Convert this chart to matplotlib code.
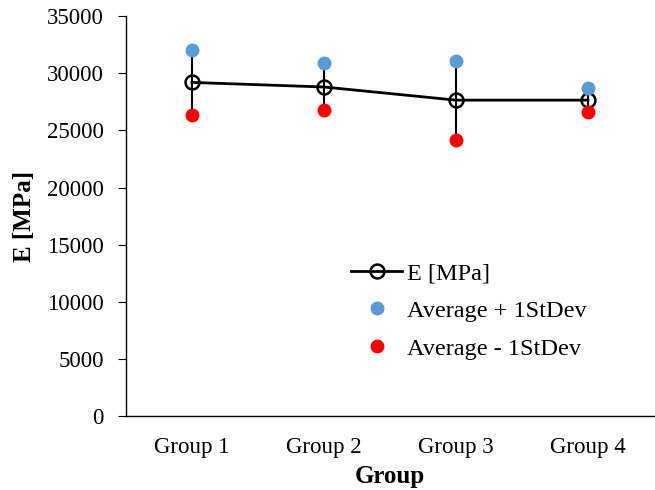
import numpy as np
import matplotlib
matplotlib.use('Agg')
import matplotlib.pyplot as plt

# values
groups = ['Group 1', 'Group 2', 'Group 3', 'Group 4']
e_avg = [29200, 28800, 27650, 27650]
e_plus = [32000, 30900, 31100, 28700]
e_minus = [26350, 26750, 24200, 26600]

plt.rcParams['font.family'] = ['Liberation Serif', 'DejaVu Serif']

fig = plt.figure(figsize=(6.55, 4.9), dpi=100)
ax = fig.add_axes([0.1924, 0.151, 0.806, 0.816])

x = np.arange(len(groups))
avg = np.array(e_avg)
up = np.array(e_plus) - avg
lo = avg - np.array(e_minus)

# error bars first so dots sit on top
ax.errorbar(x, avg, yerr=[lo, up], fmt='none', ecolor='black', elinewidth=1.5,
            capsize=0, zorder=2)
ax.plot(x, avg, color='black', lw=2, marker='o', ms=10, mfc='none',
        mec='black', mew=1.8, label='E [MPa]', zorder=3)
ax.plot(x, e_plus, ls='none', marker='o', ms=9, color='#5B9BD5',
        label='Average + 1StDev', zorder=4)
ax.plot(x, e_minus, ls='none', marker='o', ms=9, color='#FF0000',
        label='Average - 1StDev', zorder=4)

ax.set_xlim(-0.5, 3.5)
ax.set_ylim(0, 35000)
ax.set_yticks(np.arange(0, 35001, 5000))
ax.set_xticks(x)
ax.set_xticklabels(groups)
ax.tick_params(axis='x', length=0, labelsize=16.5, pad=15)
ax.tick_params(axis='y', length=6, labelsize=16.5, direction='out', pad=10)

for s in ['top', 'right']:
    ax.spines[s].set_visible(False)
ax.spines['left'].set_linewidth(1)
ax.spines['bottom'].set_linewidth(1)

ax.set_xlabel('Group', fontsize=18, fontweight='bold', labelpad=5)
ax.set_ylabel('E [MPa]', fontsize=18, fontweight='bold', labelpad=8)

ax.legend(loc='upper left', bbox_to_anchor=(351 / 655, 1 - 262 / 490),
          bbox_transform=fig.transFigure, frameon=False, borderpad=0,
          borderaxespad=0, fontsize=17.5, handlelength=2.1,
          labelspacing=0.65, handletextpad=0.2)

fig.savefig('out.png', dpi=100)
